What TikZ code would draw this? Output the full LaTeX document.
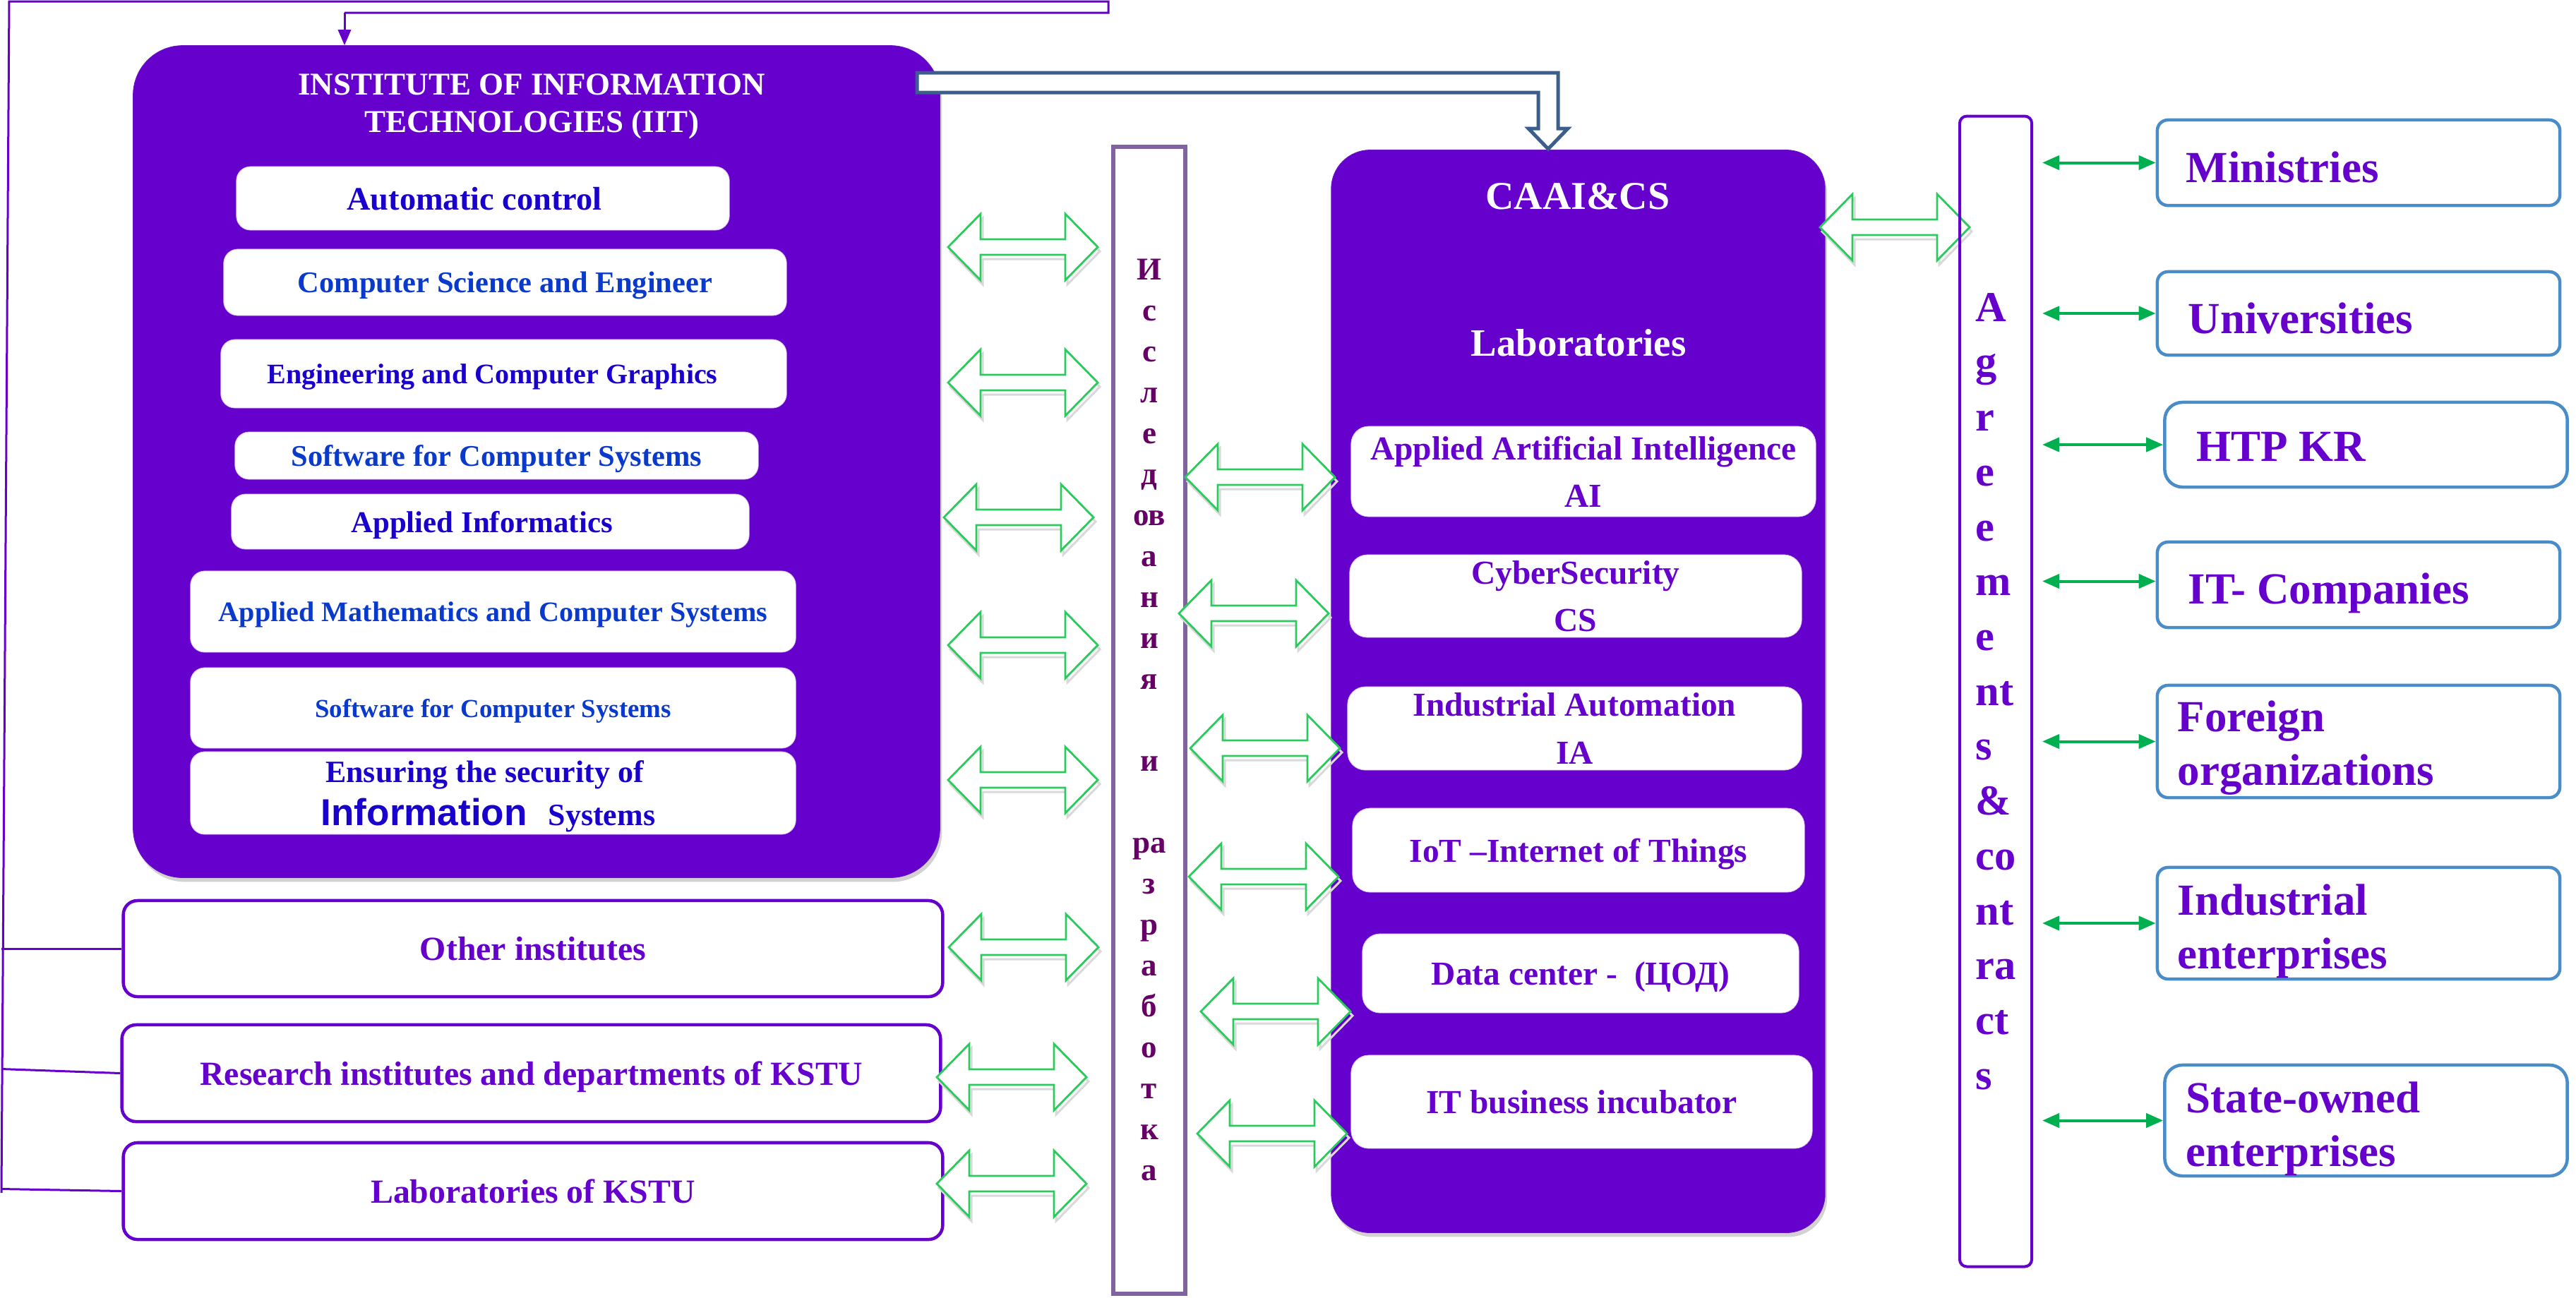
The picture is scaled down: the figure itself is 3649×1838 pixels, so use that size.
\documentclass[tikz,border=0pt]{standalone}
\usepackage{fontspec}
\setmainfont{Liberation Serif}
\newfontfamily\arialf{Liberation Sans}
\usetikzlibrary{arrows.meta,shadows,calc}
\definecolor{ipurple}{HTML}{6600CC}
\definecolor{acblue}{HTML}{1A00CC}
\definecolor{csblue}{HTML}{0A3ACC}
\definecolor{islcol}{HTML}{660066}
\definecolor{islborder}{HTML}{8064A2}
\definecolor{garc}{HTML}{2ACB5C}
\definecolor{tgreen}{HTML}{00B050}
\definecolor{rboxc}{HTML}{4A8CC8}
\definecolor{hollowc}{HTML}{3B5E8C}
\newcommand\myfs[2]{\fontsize{#1}{#2}\selectfont}
\tikzset{
  dbl/.pic={
    \draw[gray!30, line width=0.03cm, shift={(3,6)}] (-106,0) -- (-60,-47) -- (-60,-11) -- (60,-11) -- (60,-47) -- (106,0) -- (60,47) -- (60,11) -- (-60,11) -- (-60,47) -- cycle;
    \draw[garc, fill=white, line width=0.028cm] (-106,0) -- (-60,-47) -- (-60,-11) -- (60,-11) -- (60,-47) -- (106,0) -- (60,47) -- (60,11) -- (-60,11) -- (-60,47) -- cycle;
  }
}
\begin{document}
\begin{tikzpicture}[x=0.01cm,y=-0.01cm,
  bigbox/.style={fill=ipurple, draw=ipurple!85!gray, line width=0.01cm, rounded corners=#1,
     drop shadow={opacity=0.35, shadow xshift=0.03cm, shadow yshift=-0.06cm}},
  subbox/.style={fill=white, draw=ipurple!25, line width=0.008cm, rounded corners=0.2cm, inner sep=0pt, align=center, text depth=0pt},
  labbox/.style={fill=white, draw=ipurple!25, line width=0.008cm, rounded corners=0.25cm, inner sep=0pt, align=center,
     text=ipurple, font=\bfseries\myfs{13.5}{19.1}, text depth=0pt},
  leftbox/.style={fill=white, draw=ipurple, line width=0.045cm, rounded corners=0.2cm, inner sep=0pt,
     text=ipurple, font=\bfseries\myfs{13.6}{16}, text depth=0pt},
  rbox/.style={draw=rboxc, line width=0.045cm, rounded corners=#1, inner sep=0pt, minimum width=5.7cm},
  rtext/.style={anchor=north west, inner sep=0pt, align=left, text=ipurple, font=\bfseries\myfs{17.9}{21.6}},
  pline/.style={draw=ipurple, line width=0.03cm},
  tarr/.style={draw=tgreen, line width=0.04cm, shorten <=0.13cm,
     {Triangle[length=0.24cm,width=0.2cm]}-{Triangle[length=0.24cm,width=0.2cm]}},
  hollow/.style={draw=hollowc, fill=white, line width=0.05cm, line join=miter}
]
\useasboundingbox (0,0) rectangle (3649,1838);
\fill[white] (0,0) rectangle (3649,1838);

% ---------------- IIT ----------------
\node[bigbox=0.7cm, minimum width=11.42cm, minimum height=11.78cm] (iit) at (760,654) {};
\node[text=white, align=center, font=\bfseries\myfs{12.8}{15.1}] (iitT) at (753,151) {INSTITUTE OF INFORMATION\\TECHNOLOGIES (IIT)};
\node[subbox, minimum width=6.98cm, minimum height=0.90cm, text=acblue, font=\bfseries\myfs{13.2}{15}] (auto) at (684,281) {Automatic control\hspace*{0.24cm}};
\node[subbox, minimum width=7.97cm, minimum height=0.94cm, text=csblue, font=\bfseries\myfs{12.1}{14}] (cse) at (715.5,400) {Computer Science and Engineer};
\node[subbox, minimum width=8.01cm, minimum height=0.97cm, text=acblue, font=\bfseries\myfs{11.4}{14}] (ecg) at (713.5,529.5) {Engineering and Computer Graphics\hspace*{0.32cm}};
\node[subbox, minimum width=7.41cm, minimum height=0.67cm, text=csblue, font=\bfseries\myfs{12.1}{14}] (swa) at (703.5,645.5) {Software for Computer Systems};
\node[subbox, minimum width=7.33cm, minimum height=0.78cm, text=acblue, font=\bfseries\myfs{12.2}{14}] (ainf) at (694.5,739) {Applied Informatics\hspace*{0.24cm}};
\node[subbox, minimum width=8.57cm, minimum height=1.15cm, text=csblue, font=\bfseries\myfs{11.4}{14}] (amcs) at (698.5,866.5) {Applied Mathematics and Computer Systems};
\node[subbox, minimum width=8.57cm, minimum height=1.14cm, text=csblue, font=\bfseries\myfs{10.5}{13}] (swb) at (698.5,1003) {Software for Computer Systems};
\node[subbox, minimum width=8.57cm, minimum height=1.17cm, text=acblue, font=\bfseries\myfs{12.5}{17.4}] (eis) at (698.5,1123.5) {Ensuring the security of\hspace*{0.24cm}\\{\arialf\fontsize{15.1}{17.4}\selectfont Information}\hspace{0.3cm}Systems\hspace*{0.14cm}};

% ---------------- left boxes ----------------
\node[leftbox, minimum width=11.6cm, minimum height=1.36cm] (other) at (755,1344) {Other institutes};
\node[leftbox, minimum width=11.59cm, minimum height=1.37cm] (research) at (752.5,1520.5) {Research institutes and departments of KSTU};
\node[leftbox, minimum width=11.6cm, minimum height=1.37cm] (labsk) at (755,1687.5) {Laboratories of KSTU};

% connector on the left and on top
\coordinate (B0) at (2,1690);
\coordinate (T0) at (13,2);
\coordinate (T1) at (1570,2);
\coordinate (T2) at (1570,18);
\coordinate (T3) at (488,18);
\draw[pline, line join=miter] (B0) -- (T0) -- (T1) -- (T2) -- (T3);
\draw[pline, -{Triangle[length=0.22cm,width=0.18cm]}] (T3) -- (T3 |- iit.north);
\draw[pline] (other.west -| B0) -- (other.west);
\draw[pline] ($(research.west -| B0)+(0,-6)$) -- (research.west);
\draw[pline] ($(labsk.west -| B0)+(0,-3)$) -- (labsk.west);

% ---------------- research column ----------------
\node[draw=islborder, fill=white, line width=0.06cm, minimum width=1.02cm, minimum height=16.24cm,
      inner sep=0pt, align=center, text=islcol, font=\bfseries\myfs{12.8}{16.5}] (isl) at (1628,1020)
  {И\\с\\с\\л\\е\\д\\ов\\а\\н\\и\\я\\~\\и\\~\\ра\\з\\р\\а\\б\\о\\т\\к\\а};

% ---------------- CAAI&CS ----------------
\node[bigbox=0.55cm, minimum width=6.99cm, minimum height=15.33cm] (caai) at (2235.5,979.5) {};
\node[text=white, font=\bfseries\myfs{15.9}{18}] (caaiT) at (2235,278) {CAAI\&CS};
\node[text=white, font=\bfseries\myfs{15.6}{18}] (labsT) at (2236,486) {Laboratories};

% block arrows
\pic at (1449,350) {dbl};
\pic at (1449,542) {dbl};
\pic at (1443,733) {dbl};
\pic at (1449,914) {dbl};
\pic at (1449,1105) {dbl};
\pic at (1450,1342) {dbl};
\pic at (1433,1526) {dbl};
\pic at (1433,1677) {dbl};
\pic at (1785,676) {dbl};
\pic at (1776,869) {dbl};
\pic at (1792,1060) {dbl};
\pic at (1790,1242) {dbl};
\pic at (1807,1433) {dbl};
\pic at (1802,1606) {dbl};
\pic at (2684,322) {dbl};

\node[labbox, minimum width=6.58cm, minimum height=1.28cm] (lai) at (2243,668) {Applied Artificial Intelligence\\AI};
\node[labbox, minimum width=6.40cm, minimum height=1.17cm] (lcs) at (2232,844.5) {CyberSecurity\\CS};
\node[labbox, minimum width=6.43cm, minimum height=1.18cm] (lia) at (2230.5,1032) {Industrial Automation\\IA};
\node[labbox, minimum width=6.40cm, minimum height=1.19cm] (liot) at (2236,1204.5) {IoT –Internet of Things};
\node[labbox, minimum width=6.18cm, minimum height=1.12cm] (ldc) at (2239,1379) {Data center -\ \ (ЦОД)};
\node[labbox, minimum width=6.53cm, minimum height=1.32cm] (linc) at (2240.5,1561) {IT business incubator};

% hollow arrow IIT -> CAAI&CS
\draw[hollow] (1299,103) -- (2207,103) -- (2207,182) -- (2221,182) -- (2193,211) -- (2165,182) -- (2179,182) -- (2179,131) -- (1299,131) -- cycle;

% ---------------- Agreements ----------------
\node[draw=ipurple, line width=0.04cm, rounded corners=0.1cm, minimum width=1.02cm, minimum height=16.29cm,
      inner sep=0pt, align=left, text=ipurple, font=\bfseries\myfs{17.2}{22.1}] (agr) at (2827,979.5)
  {A\\g\\r\\e\\e\\m\\e\\nt\\s\\\&\\co\\nt\\ra\\ct\\s};

% ---------------- right boxes ----------------
\node[rbox=0.15cm, minimum height=1.21cm] (mins) at (3341,230.5) {};
\node[rbox=0.15cm, minimum height=1.18cm] (univ) at (3341,444) {};
\node[rbox=0.25cm, minimum height=1.20cm] (htp) at (3351.5,630) {};
\node[rbox=0.15cm, minimum height=1.21cm] (itc) at (3341,828.5) {};
\node[rbox=0.15cm, minimum height=1.59cm] (forg) at (3341,1050.5) {};
\node[rbox=0.15cm, minimum height=1.58cm] (inde) at (3341,1308) {};
\node[rbox=0.25cm, minimum height=1.57cm] (stat) at (3351.5,1587.5) {};

\node[rtext] (minsT) at (3096,214) {Ministries};
\node[rtext] (univT) at (3099,428) {Universities};
\node[rtext] (htpT) at (3111,612) {HTP KR};
\node[rtext] (itcT) at (3099,811) {IT- Companies};
\node[rtext] (forgT) at (3084,992) {Foreign\\organizations};
\node[rtext] (indeT) at (3084,1252) {Industrial\\enterprises};
\node[rtext] (statT) at (3096,1532) {State-owned\\enterprises};

\draw[tarr] (mins.west -| agr.east) -- (mins.west);
\draw[tarr] (univ.west -| agr.east) -- (univ.west);
\draw[tarr] (htp.west -| agr.east) -- (htp.west);
\draw[tarr] ($(itc.west -| agr.east)+(0,-5)$) -- ($(itc.west)+(0,-5)$);
\draw[tarr] (forg.west -| agr.east) -- (forg.west);
\draw[tarr] (inde.west -| agr.east) -- (inde.west);
\draw[tarr] (stat.west -| agr.east) -- (stat.west);
\end{tikzpicture}
\end{document}
